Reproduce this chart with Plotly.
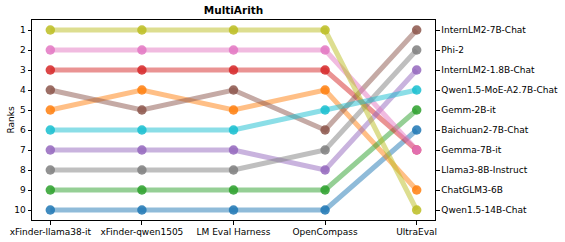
import plotly.graph_objects as go

categories = ["xFinder-llama38-it", "xFinder-qwen1505", "LM Eval Harness", "OpenCompass", "UltraEval"]

# model names, colours, and ranks per evaluation framework
model_names = ["Baichuan2-7B-Chat", "ChatGLM3-6B", "Gemm-2B-it", "Llama3-8B-Instruct",
               "InternLM2-1.8B-Chat", "InternLM2-7B-Chat", "Gemma-7B-it", "Phi-2",
               "Qwen1.5-14B-Chat", "Qwen1.5-MoE-A2.7B-Chat"]
colors = ["#1f77b4", "#ff7f0e", "#2ca02c", "#d62728", "#9467bd",
          "#8c564b", "#e377c2", "#7f7f7f", "#bcbd22", "#17becf"]

rank_baichuan2_7b = [10, 10, 10, 10, 6]
rank_chatglm3_6b = [5, 4, 5, 4, 9]
rank_gemma_2b = [9, 9, 9, 9, 5]
rank_llama3_8b = [3, 3, 3, 3, 7]
rank_internlm2_18b = [7, 7, 7, 8, 3]
rank_internlm2_7b = [4, 5, 4, 6, 1]
rank_gemma_7b = [2, 2, 2, 2, 7]
rank_phi2 = [8, 8, 8, 7, 2]
rank_qwen15_14b = [1, 1, 1, 1, 10]
rank_qwen15_moe = [6, 6, 6, 5, 4]

rank_ticks = [1, 2, 3, 4, 5, 6, 7, 8, 9, 10]
right_labels = ["InternLM2-7B-Chat", "Phi-2", "InternLM2-1.8B-Chat", "Qwen1.5-MoE-A2.7B-Chat",
                "Gemm-2B-it", "Baichuan2-7B-Chat", "Gemma-7B-it", "Llama3-8B-Instruct",
                "ChatGLM3-6B", "Qwen1.5-14B-Chat"]

all_ranks = [rank_baichuan2_7b, rank_chatglm3_6b, rank_gemma_2b, rank_llama3_8b,
             rank_internlm2_18b, rank_internlm2_7b, rank_gemma_7b, rank_phi2,
             rank_qwen15_14b, rank_qwen15_moe]


def rgba(hexc, a):
    h = hexc.lstrip("#")
    r, g, b = int(h[0:2], 16), int(h[2:4], 16), int(h[4:6], 16)
    return f"rgba({r},{g},{b},{a})"


xs = list(range(len(categories)))
fig = go.Figure()
for name, col, rk in zip(model_names, colors, all_ranks):
    fig.add_trace(go.Scatter(
        x=xs, y=rk, name=name, mode="lines",
        line=dict(color=rgba(col, 0.5), width=5),
        showlegend=False, hoverinfo="skip"))
for name, col, rk in zip(model_names, colors, all_ranks):
    fig.add_trace(go.Scatter(
        x=xs, y=rk, name=name, mode="markers",
        marker=dict(color=rgba(col, 0.85), size=9.5, line=dict(width=0)),
        showlegend=False))

# dummy trace to activate the right axis
fig.add_trace(go.Scatter(x=[0], y=[1], yaxis="y2", mode="markers",
                         marker=dict(opacity=0), showlegend=False, hoverinfo="skip"))

L, R, T, B, W, H = 32, 130, 20, 22, 565, 242
font = dict(family="DejaVu Sans", size=9, color="black")
fig.update_layout(
    width=W, height=H,
    margin=dict(l=L, r=R, t=T, b=B),
    paper_bgcolor="white", plot_bgcolor="white",
    font=font,
    title=dict(text="<b>MultiArith</b>", x=0.5, xref="paper", xanchor="center",
               y=1 - 10.5 / H, yref="container", yanchor="middle",
               font=dict(family="DejaVu Sans", size=10.5, color="black")),
    xaxis=dict(range=[-0.2, 4.2], tickmode="array", tickvals=xs, ticktext=categories,
               showgrid=False, zeroline=False, showline=True, linecolor="black", linewidth=1,
               mirror=True, ticks="outside", ticklen=3.5, tickwidth=1, tickcolor="black",
               tickfont=font, automargin=False),
    yaxis=dict(range=[10.5, 0.5], tickmode="array", tickvals=rank_ticks,
               ticktext=[str(t) for t in rank_ticks],
               showgrid=False, zeroline=False, showline=True, linecolor="black", linewidth=1,
               mirror=True, ticks="outside", ticklen=3.5, tickwidth=1, tickcolor="black",
               tickfont=font, automargin=False),
    yaxis2=dict(range=[10.5, 0.5], overlaying="y", side="right", tickmode="array",
                tickvals=rank_ticks, ticktext=right_labels,
                showgrid=False, zeroline=False, showline=False,
                ticks="outside", ticklen=3.5, tickwidth=1, tickcolor="black",
                tickfont=font, automargin=False),
    annotations=[dict(text="Ranks", textangle=-90, xref="paper", yref="paper",
                      x=(10.5 - L) / (W - L - R), y=0.5, xanchor="center", yanchor="middle",
                      showarrow=False, font=font)],
)

fig.write_html("out.html", config={"displayModeBar": False},
               post_script="document.body.style.margin='0';document.body.style.overflow='hidden';")
